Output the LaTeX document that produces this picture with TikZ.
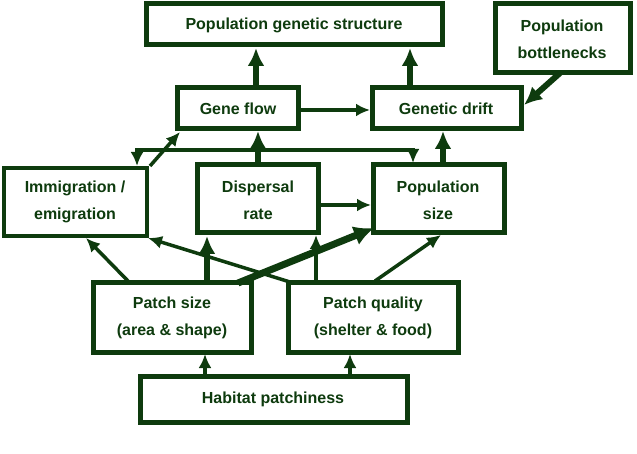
\documentclass[tikz,border=0pt]{standalone}
\usepackage{fontspec}
\setmainfont{Liberation Sans}
\usetikzlibrary{arrows.meta}
\definecolor{dg}{HTML}{0E3B0E}
\begin{document}
\begin{tikzpicture}[x=1pt,y=-1pt,
  bx/.style={draw=dg,line width=5pt,fill=white,inner sep=0pt},
  bxt/.style={draw=dg,line width=3.5pt,fill=white,inner sep=0pt},
  lab/.style={text=dg,font=\fontsize{16}{27}\selectfont\bfseries,align=center},
  ar/.style={draw=dg,line width=3.5pt,-{Latex[length=14pt,width=13pt]}},
  art/.style={draw=dg,line width=6pt,-{Latex[length=18pt,width=17pt]}}]
\useasboundingbox (0,0) rectangle (637,454);
% boxes
\draw[bx] (146,4) rectangle (442,45); \node[lab] (pgs) at (294,25) {Population genetic structure};
\draw[bx] (495,4) rectangle (630,73); \node[lab] (pb) at (562,39) {Population\\bottlenecks};
\draw[bx] (177,88) rectangle (298,129); \node[lab] (gf) at (238,109) {Gene flow};
\draw[bx] (372,88) rectangle (521,129); \node[lab] (gd) at (446,109) {Genetic drift};
\draw[bxt] (4,168) rectangle (147,236); \node[lab] (im) at (75,202) {Immigration /\\emigration};
\draw[bx] (197,165) rectangle (318,233); \node[lab] (dr) at (258,200) {Dispersal\\rate};
\draw[bx] (373,165) rectangle (504,233); \node[lab] (ps) at (438,200) {Population\\size};
\draw[bx] (93,283) rectangle (251,352); \node[lab] (pz) at (172,318) {Patch size\\(area \& shape)};
\draw[bx] (288,283) rectangle (458,352); \node[lab] (pq) at (373,318) {Patch quality\\(shelter \& food)};
\draw[bx] (140,376) rectangle (407,422); \node[lab] (hp) at (273,399) {Habitat patchiness};
% connectors
\draw[art] (256,85) -- (256,48);
\draw[art] (410,85) -- (410,48);
\draw[art] (560,73) -- (524,105);
\draw[ar] (300,110) -- (370,110);
\draw[ar] (150,166) -- (180,132);
\draw[draw=dg,line width=3.5pt,{Latex[length=14pt,width=13pt]}-{Latex[length=14pt,width=13pt]}] (137,166) -- (137,150) -- (413,150) -- (413,163);
\draw[art] (258,163) -- (258,131);
\draw[art] (443,163) -- (443,131);
\draw[ar] (320,205) -- (371,205);
\draw[ar] (128,281) -- (86,238);
\draw[art] (207,281) -- (207,236);
\draw[draw=dg,line width=7pt,-{Latex[length=20pt,width=20pt]}] (238,283) -- (374,228);
\draw[ar] (290,282) -- (148,238);
\draw[ar] (316,281) -- (316,235);
\draw[ar] (375,281) -- (441,235);
\draw[ar] (205,374) -- (205,354);
\draw[ar] (350,374) -- (350,354);
\end{tikzpicture}
\end{document}
